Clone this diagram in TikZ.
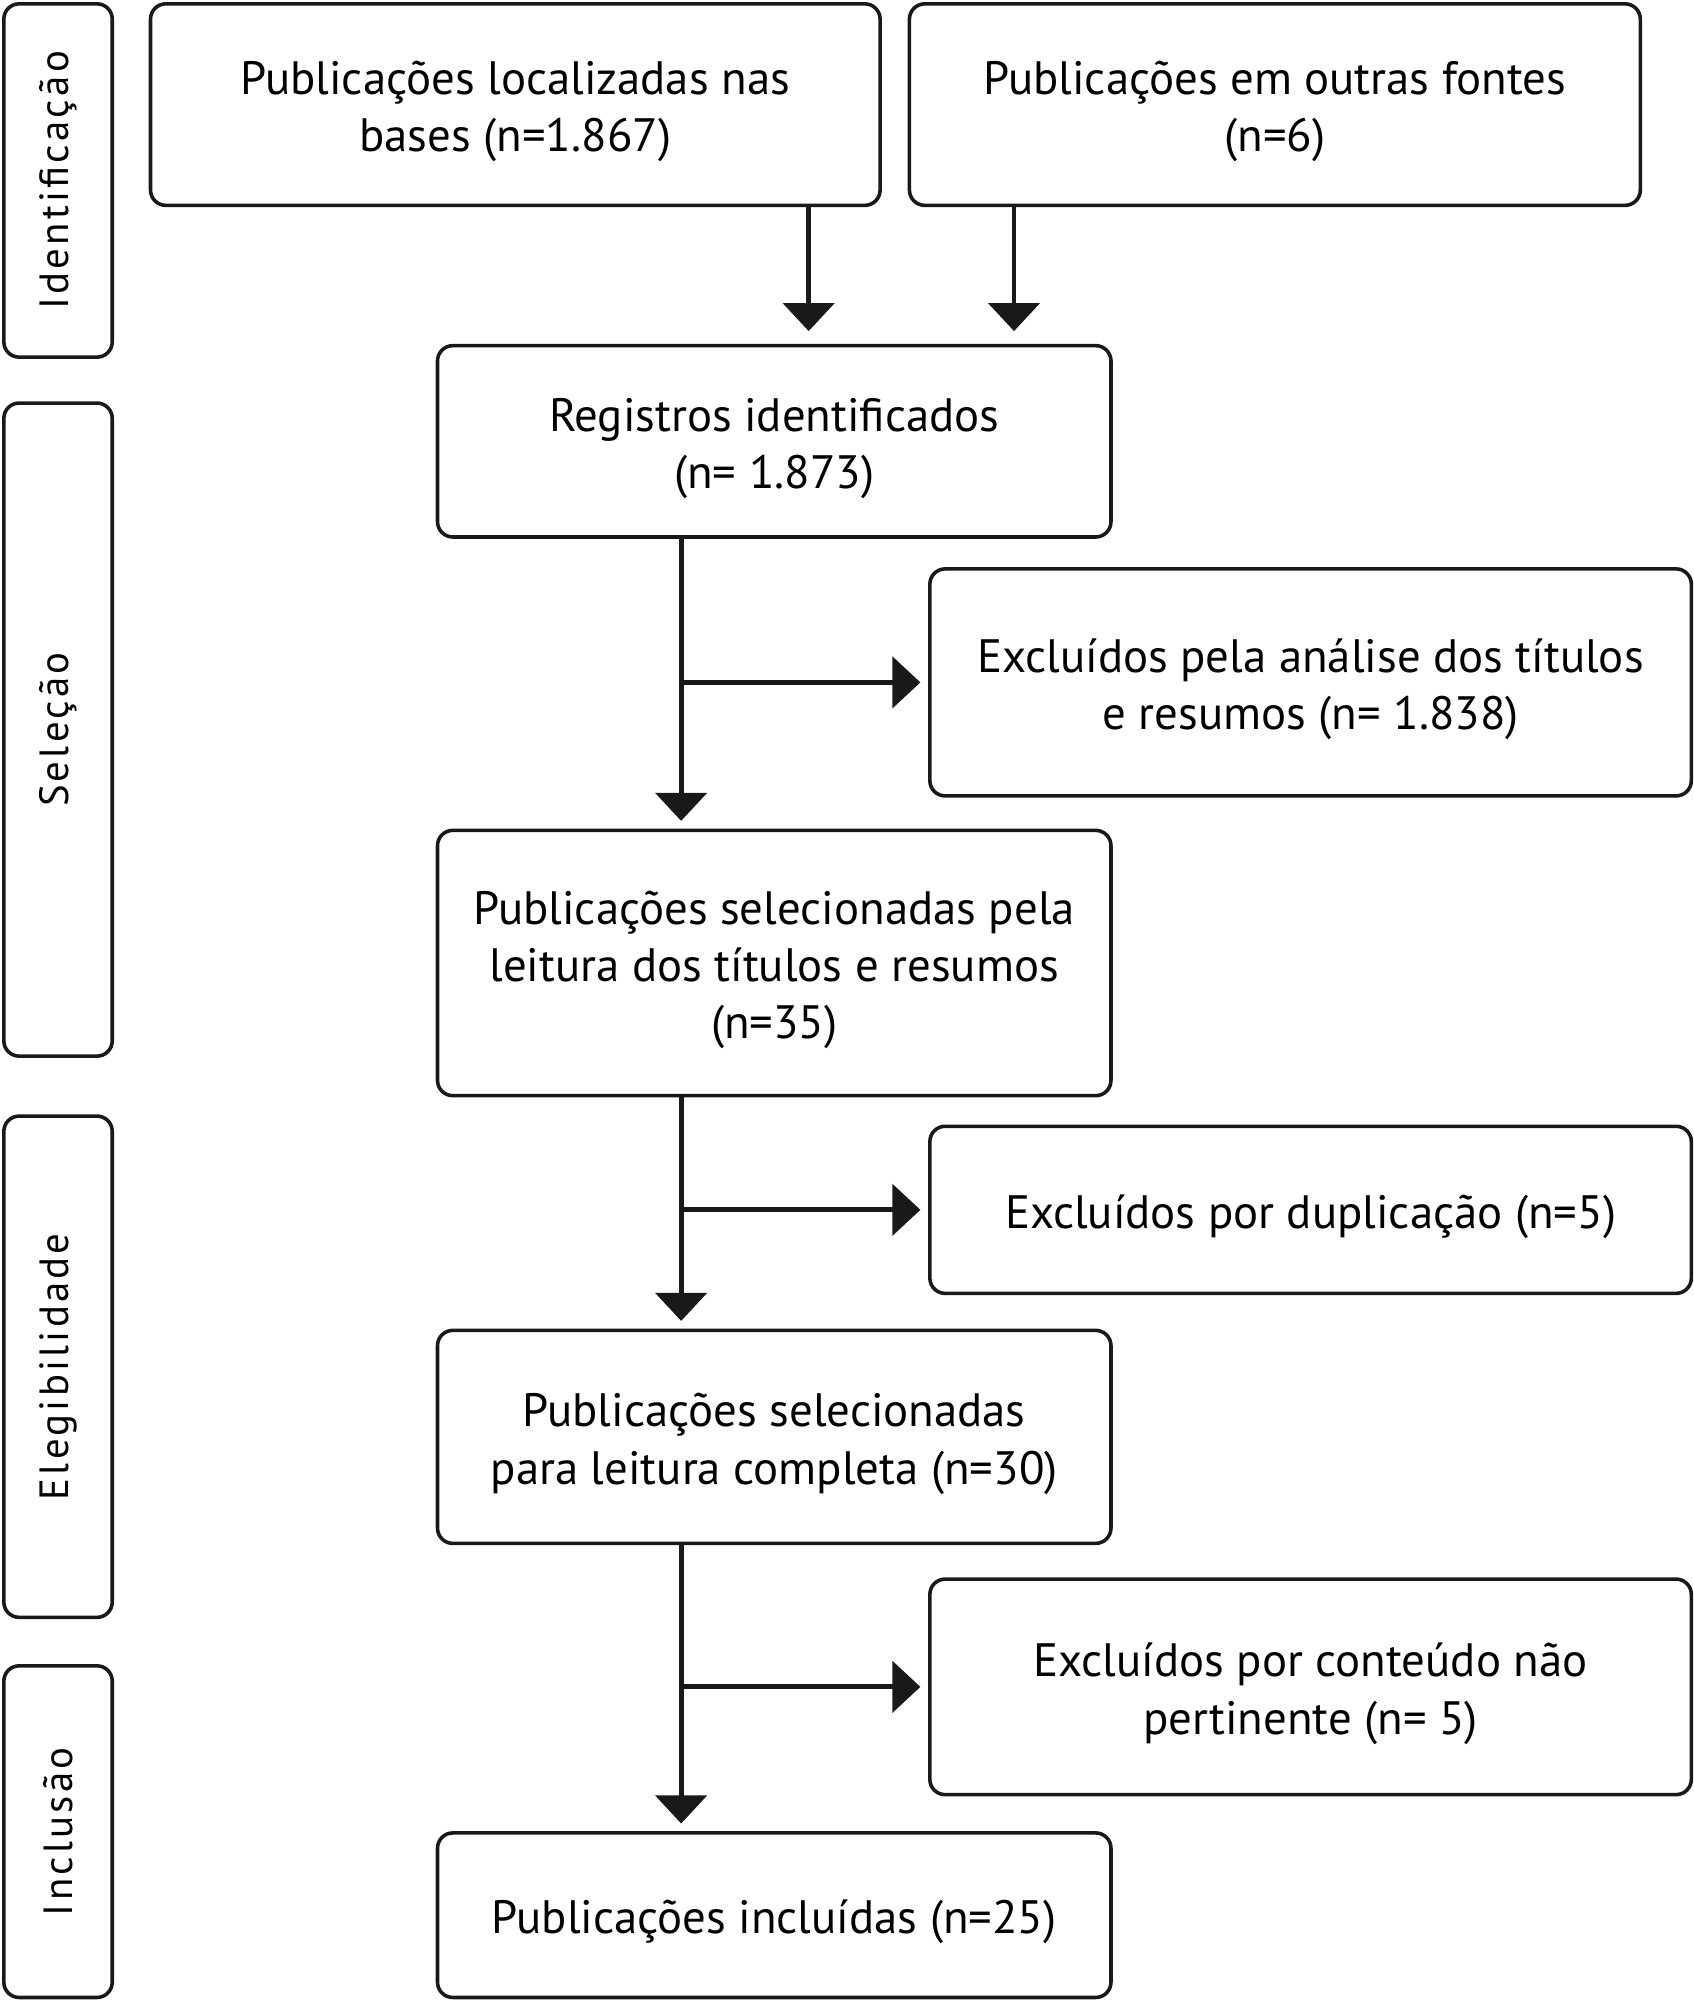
\documentclass[tikz,border=0pt]{standalone}
\usepackage{fontspec}
\setmainfont{PT Sans}
\newfontfamily\sidefont[LetterSpace=8]{PT Sans}
\usetikzlibrary{arrows.meta,calc}
\begin{document}
\begin{tikzpicture}[x=1pt,y=-1pt,
  box/.style={draw=black!90,line width=2.8pt,rounded corners=12pt,inner sep=0pt},
  txt/.style={align=center,inner sep=0pt,font=\fontsize{36.7}{45}\selectfont},
  side/.style={draw=black!90,line width=2.8pt,rounded corners=12pt,minimum width=85pt,inner sep=0pt},
  sidetext/.style={rotate=90,font=\sidefont\fontsize{32}{36}\selectfont},
  arr/.style={line width=3.8pt,draw=black!90,-{Triangle[width=40pt,length=22pt]}}]
\useasboundingbox (0,0) rectangle (1328,1568);
% side labels
\node[side,minimum height=277pt] (sI) at (45.5,141.5) {};
\node[sidetext] (tI) at (sI.center) {Identificação};
\node[side,minimum height=512pt] (sS) at (45.5,572) {};
\node[sidetext] (tS) at (sS.center) {Seleção};
\node[side,minimum height=393pt] (sE) at (45.5,1071.5) {};
\node[sidetext] (tE) at (sE.center) {Elegibilidade};
\node[side,minimum height=260pt] (sN) at (45.5,1436) {};
\node[sidetext] (tN) at (sN.center) {Inclusão};
% boxes
\node[box,minimum width=572pt,minimum height=158pt] (b1) at (404,82) {};
\node[box,minimum width=573pt,minimum height=158pt] (b2) at (999.5,82) {};
\node[box,minimum width=528pt,minimum height=150pt] (b3) at (607,346) {};
\node[box,minimum width=597pt,minimum height=178pt] (b4) at (1027.5,535) {};
\node[box,minimum width=528pt,minimum height=208pt] (b5) at (607,755) {};
\node[box,minimum width=597pt,minimum height=131pt] (b6) at (1027.5,948.5) {};
\node[box,minimum width=528pt,minimum height=167pt] (b7) at (607,1126.5) {};
\node[box,minimum width=597pt,minimum height=169pt] (b8) at (1027.5,1322.5) {};
\node[box,minimum width=528pt,minimum height=129pt] (b9) at (607,1501.5) {};
% texts
\node[txt] (t1) at ($(b1.center)+(0,5.5)$) {Publicações localizadas nas\\bases (n=1.867)};
\node[txt] (t2) at ($(b2.center)+(0,5.5)$) {Publicações em outras fontes\\(n=6)};
\node[txt] (t3) at ($(b3.center)+(0,5.5)$) {Registros identificados\\(n= 1.873)};
\node[txt] (t4) at ($(b4.center)+(0,5.5)$) {Excluídos pela análise dos títulos\\e resumos (n= 1.838)};
\node[txt] (t5) at ($(b5.center)+(0,5.5)$) {Publicações selecionadas pela\\leitura dos títulos e resumos\\(n=35)};
\node[txt] (t6) at ($(b6.center)+(0,5.5)$) {Excluídos por duplicação (n=5)};
\node[txt] (t7) at ($(b7.center)+(0,5.5)$) {Publicações selecionadas\\para leitura completa (n=30)};
\node[txt] (t8) at ($(b8.center)+(0,5.5)$) {Excluídos por conteúdo não\\pertinente (n= 5)};
\node[txt] (t9) at ($(b9.center)+(0,5.5)$) {Publicações incluídas (n=25)};
% connectors
\draw[arr,shorten >=10pt] (b1.south -| 634,0) -- (b3.north -| 634,0);
\draw[arr,shorten >=10pt] (b2.south -| 795,0) -- (b3.north -| 795,0);
\draw[arr,shorten >=6pt] (b3.south -| 534,0) -- (b5.north -| 534,0);
\coordinate (j1) at (534,535);
\draw[arr,shorten >=6pt] (j1) -- (b4.west);
\draw[arr,shorten >=6pt] (b5.south -| 534,0) -- (b7.north -| 534,0);
\coordinate (j2) at (534,948.5);
\draw[arr,shorten >=6pt] (j2) -- (b6.west);
\draw[arr,shorten >=6pt] (b7.south -| 534,0) -- (b9.north -| 534,0);
\coordinate (j3) at (534,1322.5);
\draw[arr,shorten >=6pt] (j3) -- (b8.west);
\end{tikzpicture}
\end{document}
